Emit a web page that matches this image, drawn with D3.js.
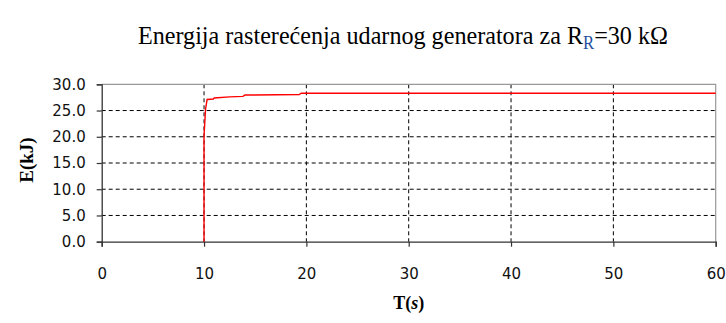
<!DOCTYPE html>
<html><head><meta charset="utf-8">
<script src="https://cdn.jsdelivr.net/npm/d3@7"></script>
<style>body{margin:0;background:#fff}svg{display:block}</style>
</head><body>
<svg id="c" width="726" height="323"></svg>
<script>
const timeS = [10.0, 10.0, 10.15, 10.3, 10.9, 11.0, 12.5, 13.8, 14.0, 19.3, 19.5, 60];
const energyKJ = [0, 20.2, 25.3, 27.1, 27.2, 27.4, 27.6, 27.7, 27.95, 28.05, 28.3, 28.3];
const xTicks = [0, 10, 20, 30, 40, 50, 60];
const yTicks = [0, 5, 10, 15, 20, 25, 30];

const SERIF = "'Liberation Serif', 'Times New Roman', serif";
const SANS = "'DejaVu Sans', sans-serif";
const svg = d3.select("#c");
const L = 101.7, R = 715.7, T = 84.3, B = 241.7;
const x = d3.scaleLinear().domain([0, 60]).range([L, R]);
const y = d3.scaleLinear().domain([0, 30]).range([B, T]);

// gridlines
svg.append("g").selectAll("line").data(yTicks.filter(d => d > 0 && d < 30)).join("line")
  .attr("x1", L).attr("x2", R).attr("y1", d => y(d)).attr("y2", d => y(d))
  .attr("stroke", "#000").attr("stroke-width", 1).attr("stroke-dasharray", "4,3");
svg.append("g").selectAll("line").data(xTicks.filter(d => d > 0 && d < 60)).join("line")
  .attr("y1", T).attr("y2", B).attr("x1", d => x(d)).attr("x2", d => x(d))
  .attr("stroke", "#000").attr("stroke-width", 1).attr("stroke-dasharray", "4,3");

// top/right border
svg.append("path").attr("d", `M${L},${T}H${R}V${B}`).attr("fill", "none")
  .attr("stroke", "#999").attr("stroke-width", 1.2);

// axes
const ya = svg.append("g").attr("transform", `translate(${L},0)`)
  .call(d3.axisLeft(y).tickValues(yTicks).tickFormat(d3.format(".1f")).tickSize(5).tickPadding(11));
const xa = svg.append("g").attr("transform", `translate(0,${B})`)
  .call(d3.axisBottom(x).tickValues(xTicks).tickSize(5).tickPadding(22));
[ya, xa].forEach(a => {
  a.select(".domain").attr("stroke", "#333").attr("stroke-width", 1.3);
  a.selectAll(".tick line").attr("stroke", "#333").attr("stroke-width", 1.2);
  a.selectAll("text").attr("font-family", SANS).attr("font-size", 15).attr("fill", "#111");
});

// data line
svg.append("path").datum(timeS.map((t, i) => [t, energyKJ[i]]))
  .attr("d", d3.line().x(d => x(d[0])).y(d => y(d[1])))
  .attr("fill", "none").attr("stroke", "#ff0000").attr("stroke-width", 1.4);

// title
const title = svg.append("text").attr("x", 0).attr("y", 0)
  .attr("font-family", SERIF).attr("font-size", 26).attr("fill", "#000");
title.append("tspan").text("Energija rasterećenja udarnog generatora za R");
title.append("tspan").attr("dy", 5).attr("font-size", 18).attr("fill", "#1d4fa0").text("R");
title.append("tspan").attr("dy", -5).text("=30 kΩ");
const bb = title.node().getBBox();
const tx0 = 138, tx1 = 668;
title.attr("transform", `translate(${tx0 - bb.x * (tx1 - tx0) / bb.width},44) scale(${(tx1 - tx0) / bb.width},1)`);

// axis titles
svg.append("text").attr("transform", `translate(33,160) rotate(-90)`).attr("text-anchor", "middle")
  .attr("font-family", SERIF).attr("font-weight", "bold")
  .attr("font-size", 19).text("E(kJ)");
const xt = svg.append("text").attr("x", (L + R) / 2).attr("y", 309).attr("text-anchor", "middle")
  .attr("font-family", SERIF).attr("font-weight", "bold").attr("font-size", 18);
xt.append("tspan").text("T(");
xt.append("tspan").attr("font-style", "italic").text("s");
xt.append("tspan").text(")");
</script>
</body></html>
